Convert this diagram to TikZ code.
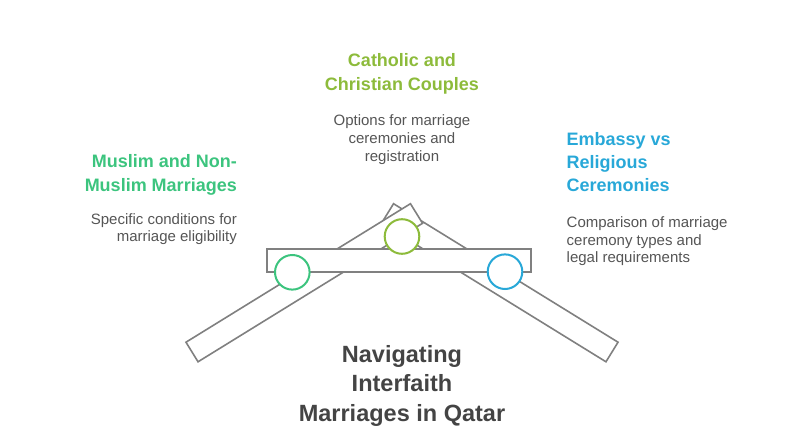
\documentclass[tikz,border=0pt]{standalone}
\usepackage{fontspec}
\setmainfont{Liberation Sans}
\usepackage{tikz}
\usetikzlibrary{calc,positioning}

\definecolor{musgreen}{RGB}{60,196,126}
\definecolor{catolive}{RGB}{141,187,59}
\definecolor{embblue}{RGB}{40,168,216}
\definecolor{plankgray}{RGB}{128,128,128}
\definecolor{desctext}{RGB}{85,85,85}
\definecolor{titletext}{RGB}{68,68,68}

\tikzset{
	plank/.style={draw=plankgray, line width=1.6pt, fill=white},
	joint/.style={circle, draw=#1, line width=2pt, fill=white, minimum size=34.6pt, inner sep=0pt},
	head/.style={font=\bfseries\fontsize{18}{23.4}\selectfont, text=#1, inner sep=0pt},
	desc/.style={font=\fontsize{15}{17.7}\selectfont, text=desctext, inner sep=0pt},
	maintitle/.style={font=\bfseries\fontsize{23.5}{29.7}\selectfont, text=titletext, inner sep=0pt},
}

\begin{document}
\begin{tikzpicture}[x=1pt, y=-1pt]
	\useasboundingbox (0,0) rectangle (804,436);

	\coordinate (rbot) at (612,352);
	\coordinate (rtop) at (387.5,213.5);
	\coordinate (lbot) at (192,352);
	\coordinate (ltop) at (416.5,213.5);

	\draw [plank] ($(rbot)!11.5pt!90:(rtop)$) -- ($(rtop)!11.5pt!-90:(rbot)$) -- ($(rtop)!11.5pt!90:(rbot)$) -- ($(rbot)!11.5pt!-90:(rtop)$) -- cycle;
	\draw [plank] ($(lbot)!11.5pt!90:(ltop)$) -- ($(ltop)!11.5pt!-90:(lbot)$) -- ($(ltop)!11.5pt!90:(lbot)$) -- ($(lbot)!11.5pt!-90:(ltop)$) -- cycle;
	\draw [plank] (267,249) rectangle (531,272);

	\node [joint=musgreen] (musjoint) at (292.3,272.3) {};
	\node [joint=catolive] (catjoint) at (402,236.5) {};
	\node [joint=embblue] (embjoint) at (505,271.7) {};

	\node [head=catolive, align=center, anchor=base] (cathead) at (402,90.4) {Catholic and\\Christian Couples};
	\node [desc, align=center, anchor=base] (catdesc) at (402,161.1) {Options for marriage\\ceremonies and\\registration};

	\node [head=musgreen, align=right, anchor=base east] (mushead) at (237,191.4) {Muslim and Non-\\Muslim Marriages};
	\node [desc, align=right, anchor=base east] (musdesc) at (237,241.7) {Specific conditions for\\marriage eligibility};

	\node [head=embblue, align=left, anchor=base west] (embhead) at (566.5,191.8) {Embassy vs\\Religious\\Ceremonies};
	\node [desc, align=left, anchor=base west] (embdesc) at (566.5,262.7) {Comparison of marriage\\ceremony types and\\legal requirements};

	\node [maintitle, align=center, anchor=base] (title) at (402,421.4) {Navigating\\Interfaith\\Marriages in Qatar};
\end{tikzpicture}
\end{document}
